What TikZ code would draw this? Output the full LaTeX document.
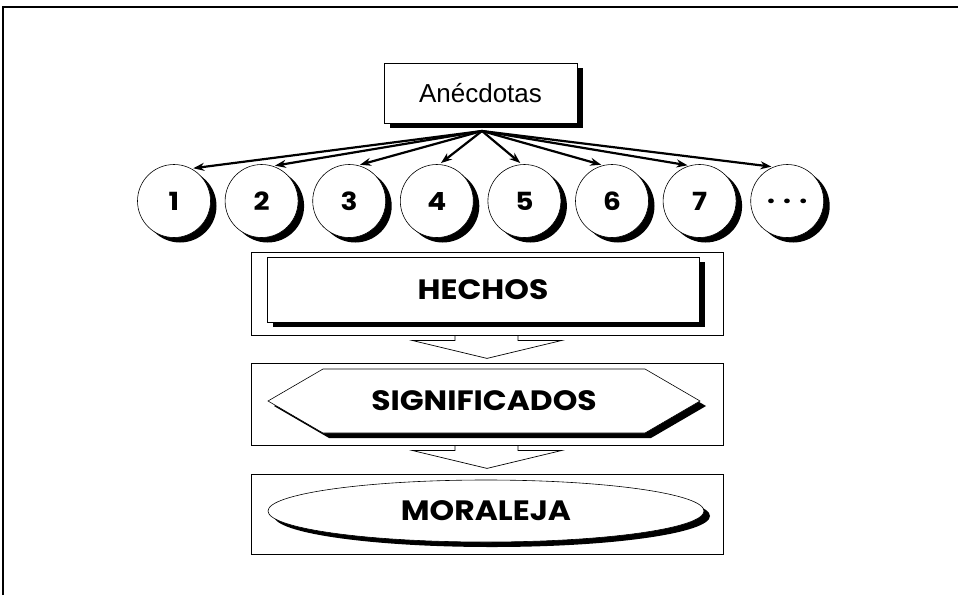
\documentclass[tikz,border=0pt]{standalone}
\usepackage{fontspec}
\setmainfont{Liberation Sans}
\newfontfamily\handfont[FakeStretch=1.12]{Poppins}
\usetikzlibrary{shadows,shapes.geometric,arrows.meta,calc}

\tikzset{
    stageframe/.style={draw,line width=0.8pt,minimum width=472pt,inner sep=0pt},
    shadowed/.style={draw,fill=white,line width=0.6pt,
        drop shadow={shadow xshift=6pt,shadow yshift=-5pt,fill=black,opacity=1}},
    stagetext/.style={font=\handfont\bfseries\fontsize{28}{32}\selectfont},
    numcirc/.style={shadowed,circle,minimum size=73pt,inner sep=0pt,
        font=\handfont\bfseries\fontsize{25}{28}\selectfont},
    fan/.style={line width=2.2pt,-{Stealth[length=11pt,width=8pt]},shorten >=2pt},
    blockarrow/.style={draw,line width=0.7pt}
}

\begin{document}
\begin{tikzpicture}[x=1pt,y=-1pt]
    \useasboundingbox (0,0) rectangle (958,595);

    % Page frame (only top and left edges show)
    \draw[line width=1.2pt] (3,595) -- (3,7) -- (958,7);

    % Anecdotes box
    \node[shadowed,minimum width=193pt,minimum height=60pt,inner sep=0pt,
        font=\fontsize{26}{30}\selectfont] (anec) at (480.5,93) {Anécdotas};
    \coordinate (hub) at (482,131);

    % One circle per anecdote
    \foreach \i/\lbl in {1/1,2/2,3/3,4/4,5/5,6/6,7/7,8/{\raisebox{-5pt}{.\,\,.\,\,.}}} {
        \node[numcirc] (c\i) at ({174+87.6*(\i-1)},201) {\lbl};
    }

    % Fan of arrows
    \foreach \i/\a in {1/62,2/72,3/76,4/86,5/94,6/104,7/106,8/112} {
        \draw[fan] (hub) -- (c\i.\a);
    }

    % Stage frames
    \node[stageframe,minimum height=83pt] (f1) at (487,293.5) {};
    \node[stageframe,minimum height=82pt] (f2) at (487,404) {};
    \node[stageframe,minimum height=80pt] (f3) at (487,514) {};

    % Hollow arrows between stages
    \foreach \f in {f1,f2} {
        \draw[blockarrow] ($(\f.south)+(-32,0)$) -- ++(0,5) -- ++(-43,0)
            -- ++(75,18) -- ++(75,-18) -- ++(-44,0) -- ++(0,-5);
    }

    % Facts
    \node[shadowed,stagetext,minimum width=432pt,minimum height=65pt,inner sep=0pt]
        (hechos) at (483,289.5) {HECHOS};

    % Meanings (hexagon)
    \draw[shadowed] (268,401) -- (323,369) -- (645,369) -- (700,401)
        -- (645,433) -- (323,433) -- cycle;
    \node[stagetext] (signif) at (484,401) {SIGNIFICADOS};

    % Moral (ellipse)
    \node[shadowed,stagetext,ellipse,minimum width=436pt,minimum height=62pt,inner sep=0pt]
        (moral) at (486,511) {MORALEJA};
\end{tikzpicture}
\end{document}
